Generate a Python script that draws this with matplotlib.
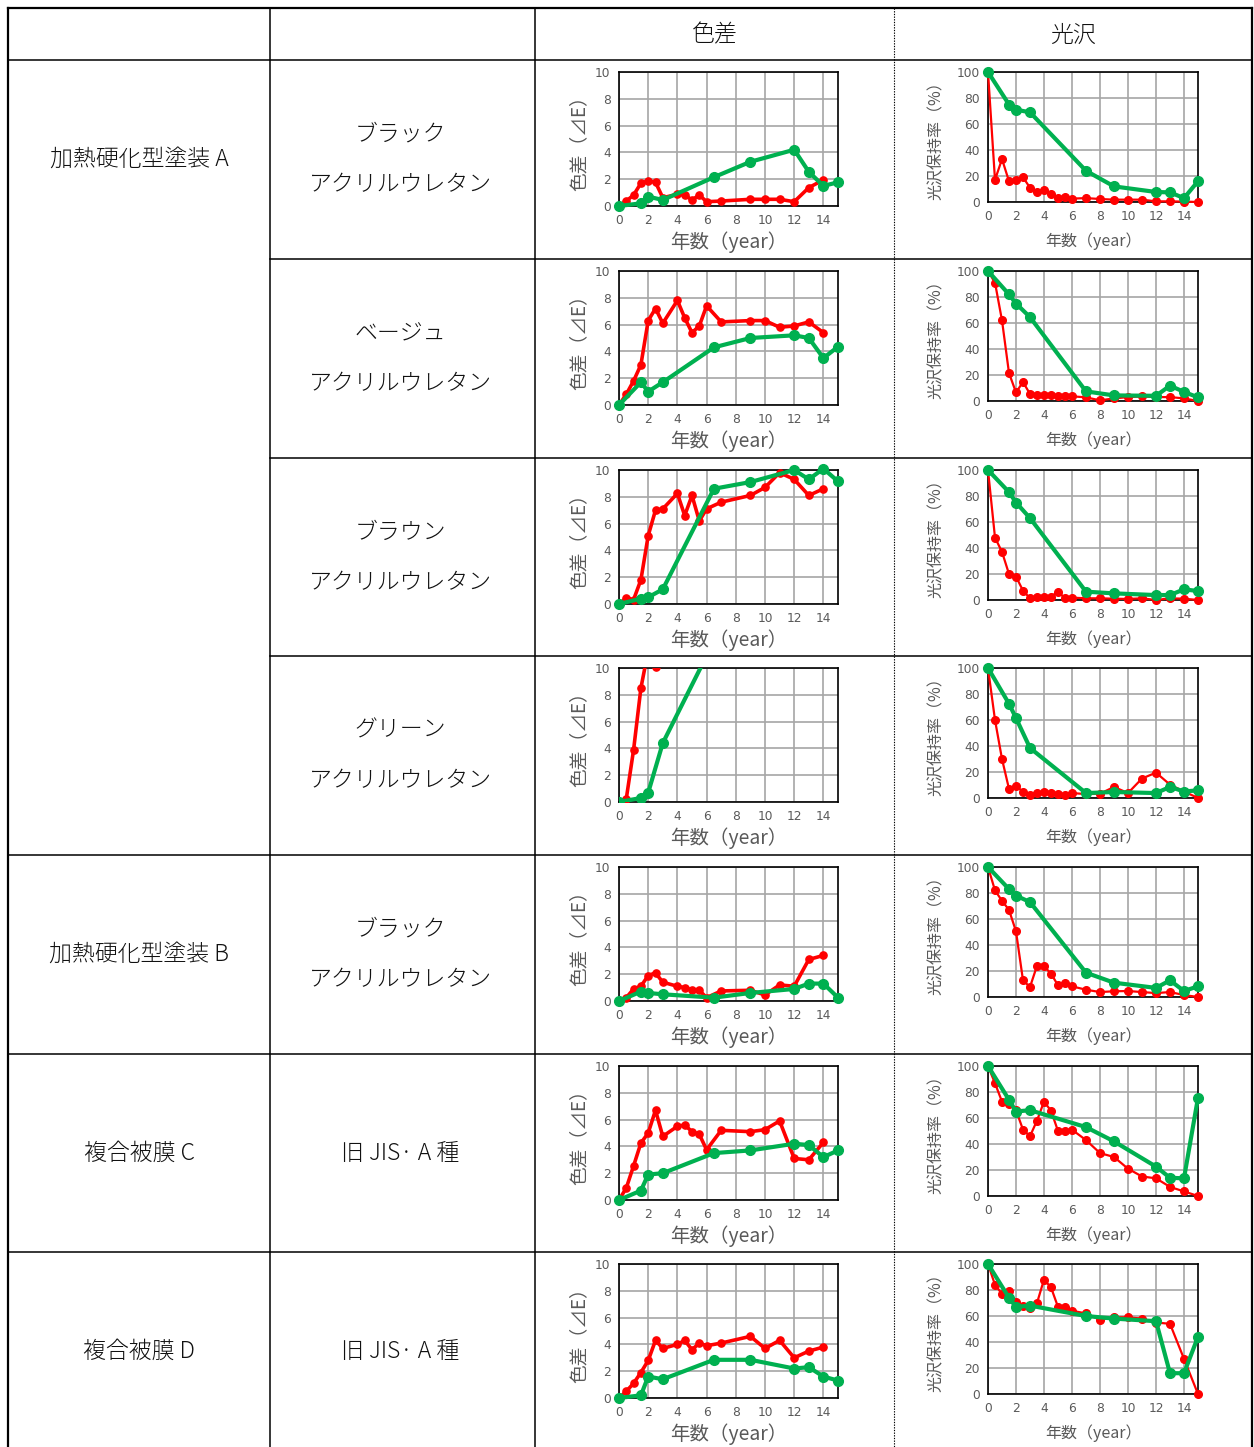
import numpy as np
import matplotlib.pyplot as plt
from matplotlib.lines import Line2D

plt.rcParams['font.family'] = ['Noto Sans CJK JP', 'DejaVu Sans']

W, H = 1254, 1447

# 表の見出し
CATEGORIES = ['加熱硬化型塗装 A', '加熱硬化型塗装 B', '複合被膜 C', '複合被膜 D']
CATEGORY_ROWS = [0, 4, 5, 6]
COATINGS = [['ブラック', 'アクリルウレタン'], ['ベージュ', 'アクリルウレタン'],
            ['ブラウン', 'アクリルウレタン'], ['グリーン', 'アクリルウレタン'],
            ['ブラック', 'アクリルウレタン'], ['旧 JIS· A 種'], ['旧 JIS· A 種']]
HEADERS = ['色差', '光沢']

# 測定年
YR_RED_DE = [0, 0.5, 1, 1.5, 2, 2.5, 3, 4, 4.5, 5, 5.5, 6, 7, 9, 10, 11, 12, 13, 14]
YR_GRN_DE = [0, 1.5, 2, 3, 6.5, 9, 12, 13, 14, 15]
YR_RED_GL = [0, 0.5, 1, 1.5, 2, 2.5, 3, 3.5, 4, 4.5, 5, 5.5, 6, 7, 8, 9, 10, 11, 12, 13, 14, 15]
YR_GRN_GL = [0, 1.5, 2, 3, 7, 9, 12, 13, 14, 15]

# 色差 (⊿E)
de_red = [
    [0, 0.37, 0.82, 1.7, 1.87, 1.77, 0.62, 0.87, 0.82, 0.45, 0.82, 0.32, 0.37, 0.5, 0.5, 0.5, 0.32, 1.37, 1.95],
    [0, 0.8, 1.8, 3.0, 6.3, 7.2, 6.1, 7.8, 6.5, 5.4, 5.9, 7.4, 6.2, 6.3, 6.3, 5.8, 5.9, 6.2, 5.4],
    [0, 0.45, 0.33, 1.8, 5.1, 7.0, 7.1, 8.25, 6.6, 8.1, 6.2, 7.1, 7.6, 8.1, 8.7, 9.8, 9.3, 8.1, 8.6],
    [0, 0.25, 3.9, 8.5, 11.3, 10.05, 13.0],
    [0, 0.25, 0.9, 1.1, 1.9, 2.1, 1.4, 1.1, 1.0, 0.8, 0.8, 0.25, 0.75, 0.8, 0.45, 1.2, 1.1, 3.1, 3.4],
    [0, 0.9, 2.55, 4.25, 5.0, 6.7, 4.75, 5.5, 5.6, 5.1, 4.9, 3.75, 5.2, 5.1, 5.25, 5.9, 3.1, 3.0, 4.3],
    [0, 0.5, 1.1, 1.9, 2.8, 4.3, 3.7, 4.0, 4.3, 3.6, 4.1, 3.9, 4.1, 4.6, 3.7, 4.3, 3.0, 3.5, 3.8],
]
de_grn = [
    [0, 0.2, 0.7, 0.45, 2.15, 3.3, 4.2, 2.55, 1.5, 1.77],
    [0, 1.7, 1.0, 1.7, 4.3, 5.0, 5.2, 5.0, 3.5, 4.35],
    [0, 0.4, 0.5, 1.1, 8.6, 9.1, 10.0, 9.3, 10.1, 9.15],
    [0, 0.3, 0.7, 4.4, 12.0],
    [0, 0.7, 0.6, 0.5, 0.25, 0.6, 0.9, 1.3, 1.3, 0.25],
    [0, 0.7, 1.9, 2.0, 3.5, 3.7, 4.2, 4.1, 3.2, 3.7],
    [0, 0.2, 1.6, 1.4, 2.85, 2.85, 2.2, 2.3, 1.6, 1.3],
]

# 光沢保持率 (%)
gl_red = [
    [100, 17, 33, 16, 17, 19, 11, 7.4, 9.5, 6, 3, 3.6, 2.6, 3, 2.3, 1.8, 1.8, 1.8, 0.5, 0.5, 0.3, 0],
    [100, 91, 62, 21.5, 6.6, 14.6, 5.4, 4.3, 4.9, 4.9, 3.6, 3.6, 3.6, 2.8, 0.5, 2, 3, 3.5, 3, 3, 2, 0],
    [100, 48, 37, 20, 18, 7.2, 1.3, 2.6, 2.6, 2.6, 6.4, 1.3, 1.8, 1.3, 1.3, 1, 0.8, 1.3, 0, 1.3, 1, 0],
    [100, 60, 30, 7, 9, 5, 2.6, 4, 4.6, 4, 3.3, 2.6, 3.8, 3, 3.3, 8.5, 3.8, 15, 19.5, 10.3, 5, 0],
    [100, 82, 74, 67, 50.5, 12.8, 7.7, 24, 23.6, 18, 9, 10.8, 8.2, 5.6, 3.8, 4.4, 4.6, 3.8, 3, 3.8, 1.5, 0],
    [100, 86.7, 72.6, 71, 66, 51, 46, 58, 72.6, 65.6, 50, 50, 51, 43, 33, 30, 21, 15, 13.6, 7, 3.5, 0],
    [100, 84, 77, 79, 71, 68, 66, 70, 88, 82, 67, 67, 64, 62, 57, 59, 59, 58, 55, 54, 27, 0],
]
gl_grn = [
    [100, 75, 71, 69, 24, 12, 7.7, 7.4, 3, 16],
    [100, 82, 75, 64.5, 7.4, 4.3, 4, 11.8, 7, 2.8],
    [100, 83, 75, 63, 6.4, 5.1, 3.8, 3.8, 8.2, 6.9],
    [100, 72.5, 61.5, 38.5, 3.8, 4.6, 3.8, 8.5, 5, 5.9],
    [100, 83, 78, 73, 18.7, 11, 7, 12.8, 4.6, 8.2],
    [100, 74, 65, 66, 53, 42, 22.6, 14, 13.6, 75.6],
    [100, 74, 67, 68, 60, 58, 56, 16, 16, 44],
]

RED = '#ff0000'
GREEN = '#00b050'
GREY = '#595959'
ROW_TOPS = [60, 259, 458, 656, 855, 1054, 1252]
ROW_H = 199
CELL_FS = 16.5

fig = plt.figure(figsize=(W / 100, H / 100), dpi=100)

# 表の罫線と文字
tab = fig.add_axes([0, 0, 1, 1])
tab.set_xlim(0, W)
tab.set_ylim(H, 0)
tab.axis('off')

def hline(y, x0, x1, lw=1.1):
    tab.add_line(Line2D([x0, x1], [y, y], color='black', lw=lw))

def vline(x, y0, y1, lw=1.1, ls='-'):
    tab.add_line(Line2D([x, x], [y0, y1], color='black', lw=lw, ls=ls))

def cell_text(x, y, s):
    tab.text(x, y, s, ha='center', va='center', fontsize=CELL_FS,
             fontweight='light', color='#111111')

hline(8, 8, 1252, lw=1.6)
hline(60, 8, 1252)
for i, y in enumerate(ROW_TOPS[1:], start=1):
    hline(y, 8 if i in CATEGORY_ROWS else 270, 1252)
vline(8, 8, H, lw=1.6)
vline(270, 8, H)
vline(535, 8, H)
vline(1252, 8, H, lw=1.6)
vline(894, 8, H, lw=0.8, ls=(0, (1.2, 1.2)))

cell_text(715, 35, HEADERS[0])
cell_text(1073, 35, HEADERS[1])

for name, r in zip(CATEGORIES, CATEGORY_ROWS):
    cell_text(139, ROW_TOPS[r] + ROW_H / 2, name)

for r, lines in enumerate(COATINGS):
    cy = ROW_TOPS[r] + ROW_H / 2
    if len(lines) == 2:
        cell_text(400, cy - 25, lines[0])
        cell_text(400, cy + 25, lines[1])
    else:
        cell_text(400, cy, lines[0])


def make_axes(l, t, r, b):
    return fig.add_axes([l / W, 1 - b / H, (r - l) / W, (b - t) / H])


def series(ax, xs, ys, color, lw, ms, ymax):
    clip = max(ys) > ymax * 1.02
    ax.plot(xs[:len(ys)], ys, color=color, lw=lw, marker='o', ms=ms,
            mfc=color, mec=color, clip_on=clip, zorder=3)


def style(ax, ymax, ystep, ylabel, ylab_off, ylab_size, xlab_size, xlab_off, w, h):
    ax.set_xlim(0, 15)
    ax.set_ylim(0, ymax)
    ax.set_xticks(np.arange(0, 15, 2))
    ax.set_yticks(np.arange(0, ymax + 1, ystep))
    ax.grid(True, color='#a6a6a6', lw=1.2, zorder=0)
    ax.set_axisbelow(True)
    for s in ax.spines.values():
        s.set_color('black')
        s.set_linewidth(1.2)
    ax.tick_params(length=0, labelsize=8.8, labelcolor=GREY, pad=6)
    for lab in ax.get_xticklabels() + ax.get_yticklabels():
        lab.set_family('DejaVu Sans')
    ax.set_ylabel(ylabel, fontsize=ylab_size, color=GREY)
    ax.yaxis.set_label_coords(-ylab_off / w, 0.5)
    ax.set_xlabel('年数（year）', fontsize=xlab_size, color=GREY)
    ax.xaxis.set_label_coords(0.5, -xlab_off / h)


for r, top in enumerate(ROW_TOPS):
    # 色差
    ax = make_axes(619, top + 12, 838, top + 146)
    style(ax, 10, 2, '色差（⊿E）', 29, 13.5, 14, 25, 219, 134)
    series(ax, YR_RED_DE, de_red[r], RED, 2.6, 5.2, 10)
    series(ax, YR_GRN_DE, de_grn[r], GREEN, 3.0, 7, 10)

    # 光沢
    ax = make_axes(988, top + 12, 1198, top + 142)
    style(ax, 100, 20, '光沢保持率（%）', 43, 11.5, 11.5, 30, 210, 130)
    series(ax, YR_RED_GL, gl_red[r], RED, 1.6, 5.5, 100)
    series(ax, YR_GRN_GL, gl_grn[r], GREEN, 3.0, 7, 100)

fig.savefig('out.png', dpi=100, facecolor='white')
